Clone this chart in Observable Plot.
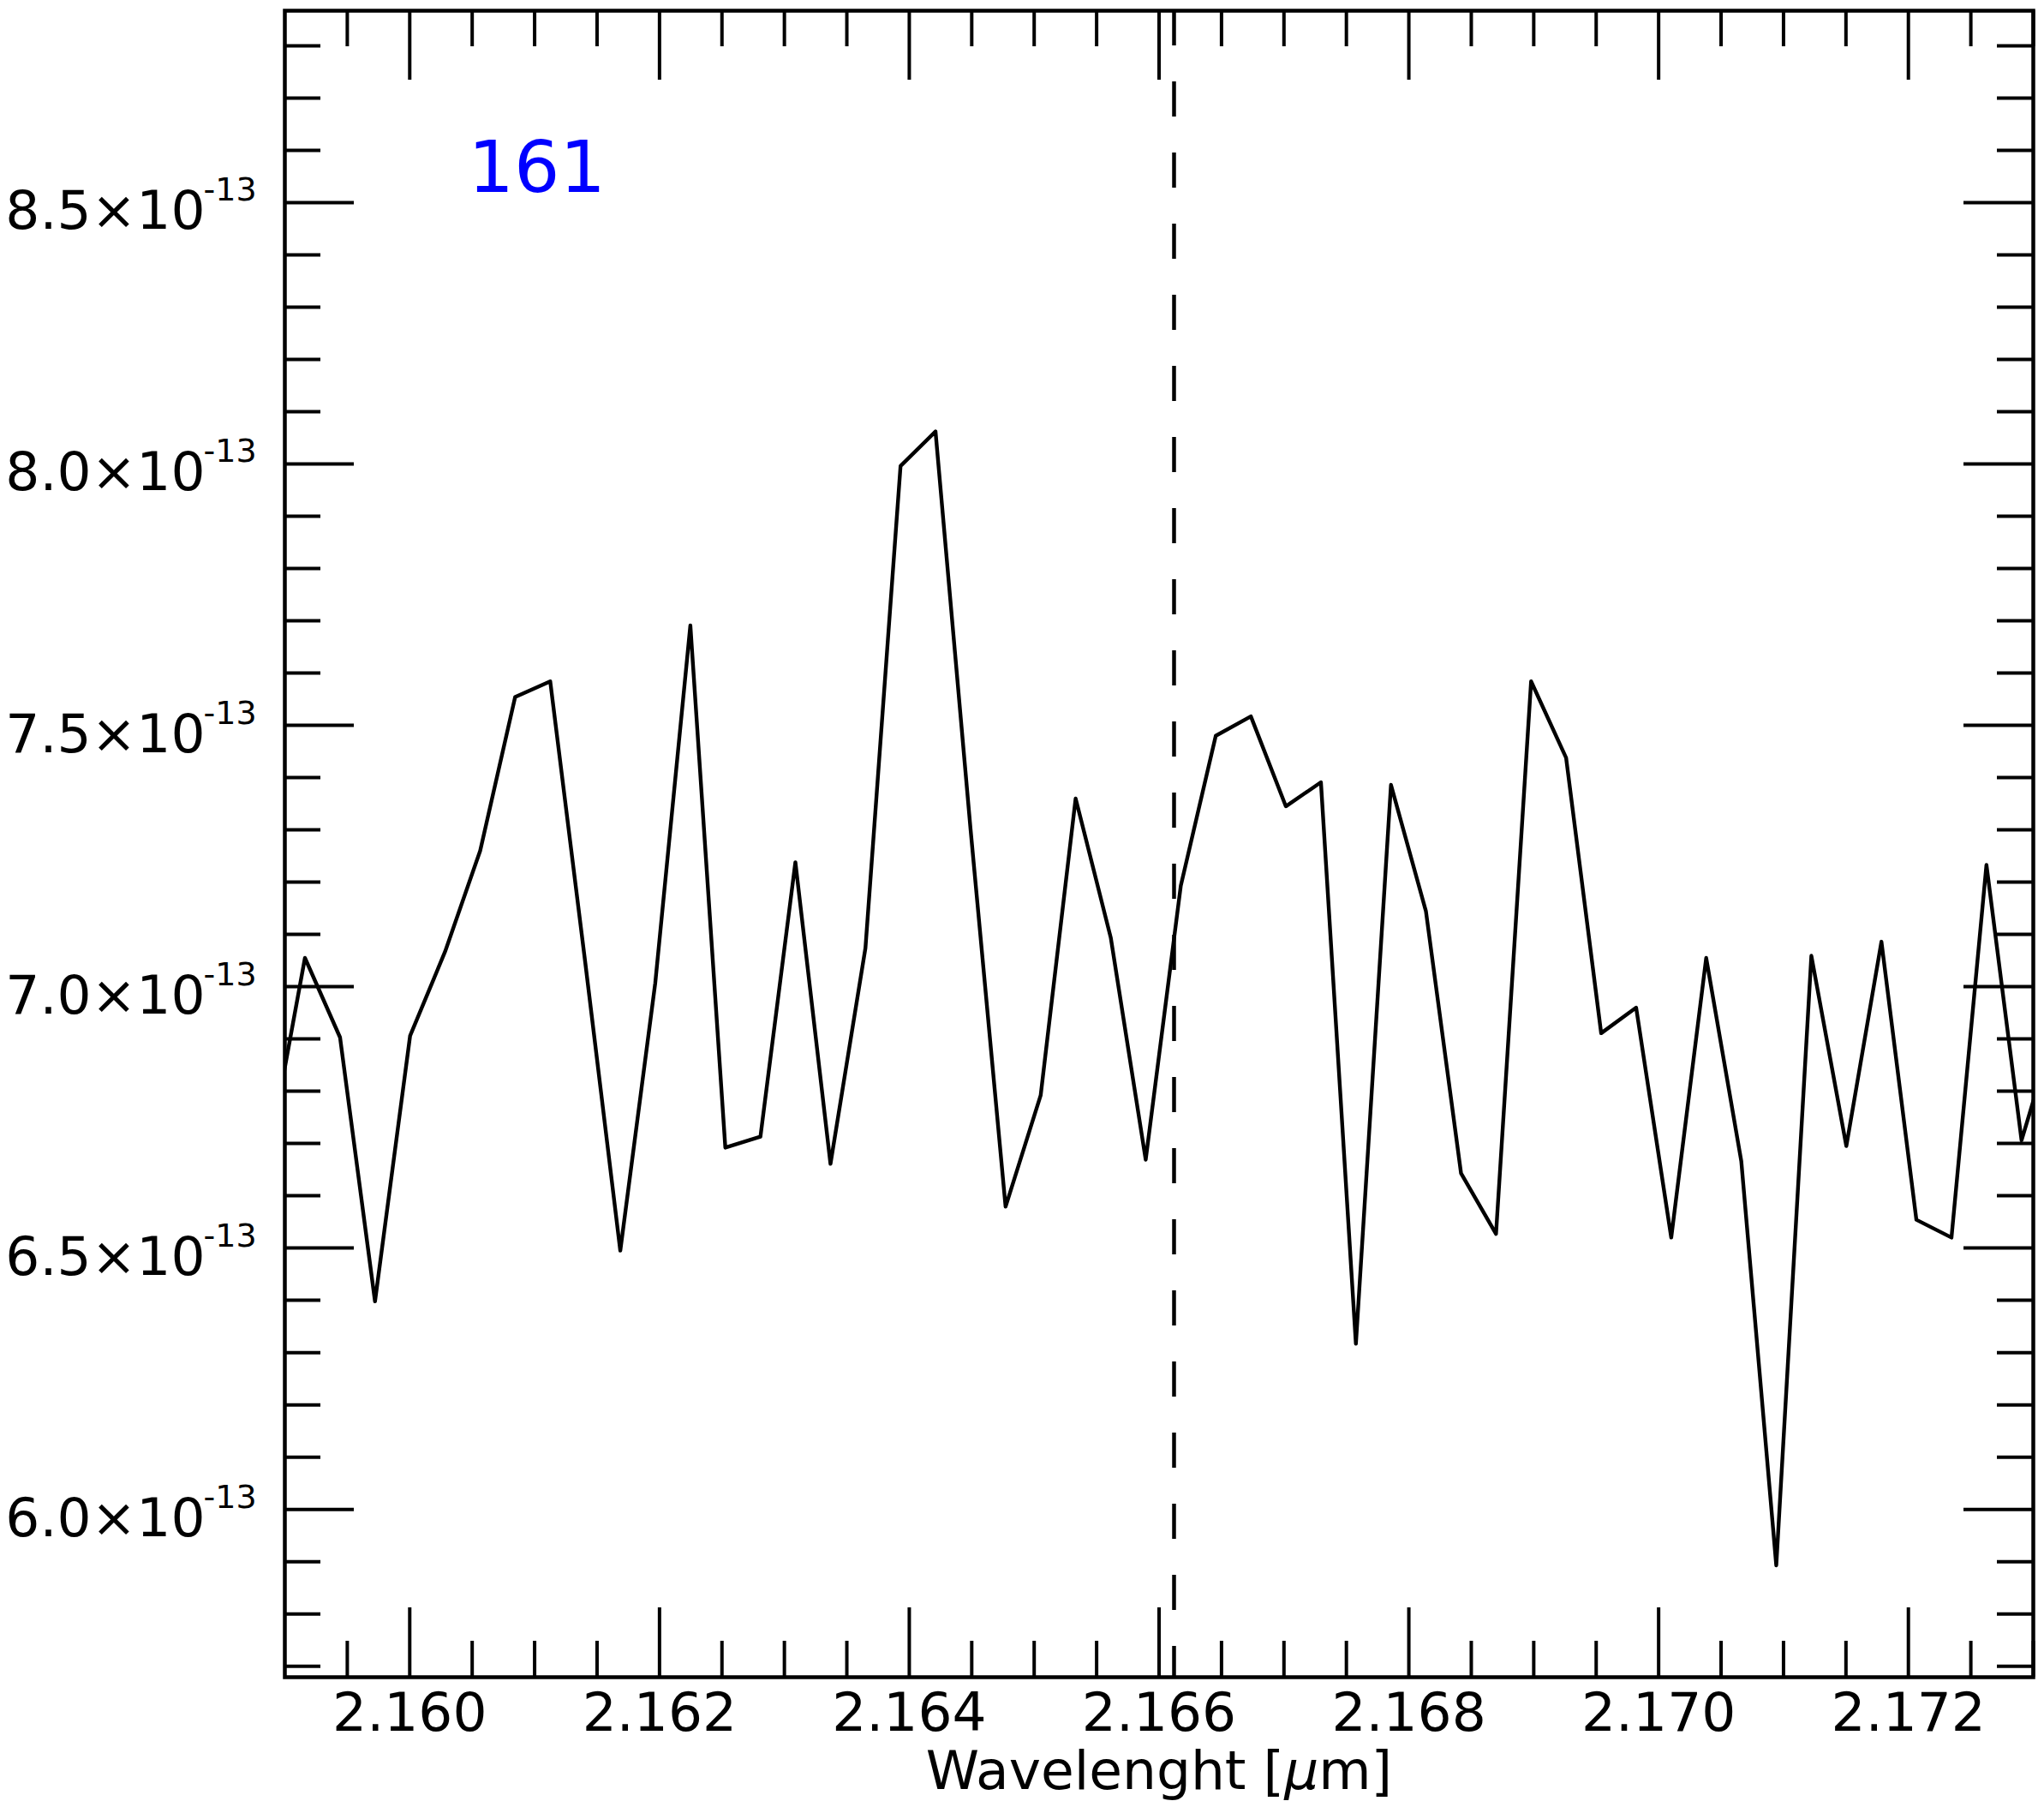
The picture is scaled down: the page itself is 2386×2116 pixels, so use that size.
<!DOCTYPE html>
<html>
<head>
<meta charset="utf-8">
<script src="https://cdn.jsdelivr.net/npm/d3@7"></script>
<script src="https://cdn.jsdelivr.net/npm/@observablehq/plot@0.6"></script>
<style>
  html, body { margin: 0; padding: 0; background: #fff; }
</style>
</head>
<body>
<div id="chart"></div>
<script>
// Wavelength (micron) of each spectral sample
const wavelength = [
  2.158881, 2.159161, 2.159442, 2.159722, 2.160003, 2.160283, 2.160564, 2.160844,
  2.161125, 2.161405, 2.161686, 2.161966, 2.162247, 2.162527, 2.162808, 2.163088,
  2.163369, 2.163649, 2.163930, 2.164210, 2.164491, 2.164771, 2.165052, 2.165332,
  2.165613, 2.165893, 2.166174, 2.166454, 2.166735, 2.167015, 2.167296, 2.167576,
  2.167857, 2.168137, 2.168418, 2.168698, 2.168979, 2.169259, 2.169540, 2.169820,
  2.170101, 2.170381, 2.170662, 2.170942, 2.171223, 2.171503, 2.171784, 2.172064,
  2.172345, 2.172625, 2.172906, 2.173186
];
// Flux of each sample
const flux = [
  6.69e-13, 7.055e-13, 6.903e-13, 6.398e-13, 6.906e-13, 7.067e-13, 7.260e-13, 7.554e-13,
  7.584e-13, 7.047e-13, 6.495e-13, 7.007e-13, 7.691e-13, 6.692e-13, 6.713e-13, 7.238e-13,
  6.661e-13, 7.074e-13, 7.996e-13, 8.062e-13, 7.300e-13, 6.579e-13, 6.792e-13, 7.360e-13,
  7.094e-13, 6.669e-13, 7.193e-13, 7.480e-13, 7.517e-13, 7.345e-13, 7.391e-13, 6.317e-13,
  7.386e-13, 7.144e-13, 6.643e-13, 6.527e-13, 7.584e-13, 7.438e-13, 6.911e-13, 6.960e-13,
  6.520e-13, 7.055e-13, 6.666e-13, 5.893e-13, 7.059e-13, 6.695e-13, 7.086e-13, 6.554e-13,
  6.520e-13, 7.233e-13, 6.706e-13, 6.93e-13
];
const lineWavelength = [2.16612];       // dashed reference line (Br gamma)
const panelLabel = ["161"];
const xLabel = "Wavelenght [μm]";

const xMajor = [2.160, 2.162, 2.164, 2.166, 2.168, 2.170, 2.172];
const xMajorLabels = ["2.160", "2.162", "2.164", "2.166", "2.168", "2.170", "2.172"];
const yMajor = [6.0e-13, 6.5e-13, 7.0e-13, 7.5e-13, 8.0e-13, 8.5e-13];
const yMajorLabels = ["6.0×10", "6.5×10", "7.0×10", "7.5×10", "8.0×10", "8.5×10"];
const yExponent = "-13";

const xDomain = [2.159, 2.173];
const yDomain = [5.679e-13, 8.867e-13];

const xMinor = d3.range(2.1590, 2.17301, 0.0005).filter(v => !xMajor.some(m => Math.abs(m - v) < 1e-7) && v > xDomain[0] + 1e-7);
const yMinor = d3.range(57, 89, 1).map(v => v / 10 * 1e-13).filter(v => !yMajor.some(m => Math.abs(m - v) < 1e-16));

const data = wavelength.map((w, i) => ({w, f: flux[i]}));

const W = 2386, H = 2116;
const mL = 332, mR = 13, mT = 12, mB = 159;
const pw = W - mL - mR, ph = H - mT - mB;
const font = "DejaVu Sans";
const majorLen = 81, minorLen = 42;

const chart = Plot.plot({
  width: W,
  height: H,
  marginLeft: mL, marginRight: mR, marginTop: mT, marginBottom: mB,
  style: {fontFamily: font, background: "white", color: "black"},
  x: {domain: xDomain, axis: null},
  y: {domain: yDomain, axis: null},
  marks: [
    // y ticks (inward) left and right
    Plot.tickY(yMajor, {y: d => d, insetRight: pw - majorLen, stroke: "black", strokeWidth: 4}),
    Plot.tickY(yMajor, {y: d => d, insetLeft: pw - majorLen, stroke: "black", strokeWidth: 4}),
    Plot.tickY(yMinor, {y: d => d, insetRight: pw - minorLen, stroke: "black", strokeWidth: 4}),
    Plot.tickY(yMinor, {y: d => d, insetLeft: pw - minorLen, stroke: "black", strokeWidth: 4}),
    // x ticks (inward) top and bottom
    Plot.tickX(xMajor, {x: d => d, insetBottom: ph - majorLen, stroke: "black", strokeWidth: 4}),
    Plot.tickX(xMajor, {x: d => d, insetTop: ph - majorLen, stroke: "black", strokeWidth: 4}),
    Plot.tickX(xMinor, {x: d => d, insetBottom: ph - minorLen, stroke: "black", strokeWidth: 4}),
    Plot.tickX(xMinor, {x: d => d, insetTop: ph - minorLen, stroke: "black", strokeWidth: 4}),
    // dashed reference line
    Plot.ruleX(lineWavelength, {x: d => d, stroke: "black", strokeWidth: 4.5, strokeDasharray: "41,42"}),
    // spectrum
    Plot.line(data, {x: "w", y: "f", stroke: "black", strokeWidth: 4.4, strokeLinejoin: "round", clip: true}),
    Plot.frame({stroke: "black", strokeWidth: 4.5}),
    // y tick labels
    Plot.text(yMajor, {y: d => d, text: (d, i) => yMajorLabels[i], frameAnchor: "left", textAnchor: "end",
      lineAnchor: "bottom", dx: -93, dy: 31, fontSize: 63, fontFamily: font, fill: "black"}),
    Plot.text(yMajor, {y: d => d, text: () => yExponent, frameAnchor: "left", textAnchor: "start",
      lineAnchor: "bottom", dx: -95, dy: -2, fontSize: 38, fontFamily: font, fill: "black"}),
    // x tick labels
    Plot.text(xMajor, {x: d => d, text: (d, i) => xMajorLabels[i], frameAnchor: "bottom", textAnchor: "middle",
      lineAnchor: "bottom", dy: 62, fontSize: 63, fontFamily: font, fill: "black"}),
    // x axis label
    Plot.text([xLabel], {frameAnchor: "bottom", textAnchor: "middle", lineAnchor: "bottom", dy: 130,
      fontSize: 63, fontFamily: font, fill: "black"}),
    // panel label
    Plot.text(panelLabel, {frameAnchor: "top-left", textAnchor: "start", lineAnchor: "bottom",
      dx: 214, dy: 211, fontSize: 84, fontFamily: font, fill: "#0000ff"})
  ]
});

document.getElementById("chart").appendChild(chart);

// italic mu in the axis label
d3.select(chart).selectAll("text").each(function() {
  const t = d3.select(this);
  if (!t.selectAll("text").empty()) return;
  const s = this.textContent;
  if (s !== xLabel) return;
  const i = s.indexOf("μ");
  while (this.firstChild) this.removeChild(this.firstChild);
  t.append("tspan").text(s.slice(0, i));
  t.append("tspan").attr("font-style", "italic").text("μ");
  t.append("tspan").text(s.slice(i + 1));
});
</script>
</body>
</html>
